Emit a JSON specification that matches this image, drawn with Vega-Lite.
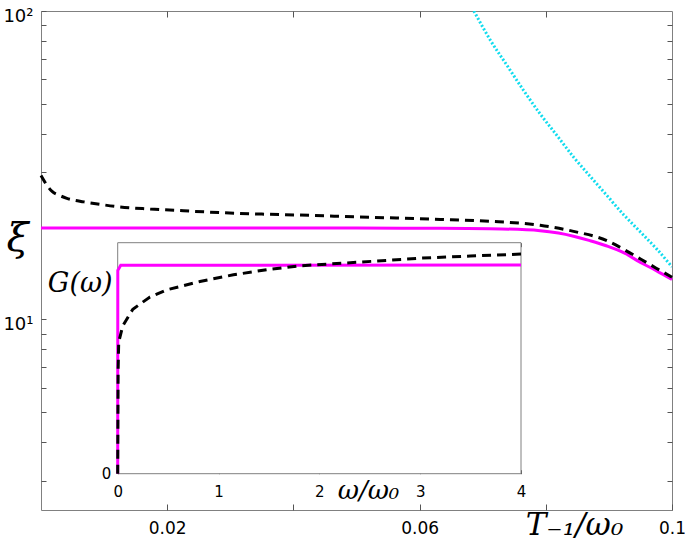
{
  "$schema": "https://vega.github.io/schema/vega-lite/v6.json",
  "width": 631,
  "height": 499,
  "autosize": {"type": "none"},
  "padding": {"left": 41, "top": 11, "right": 13, "bottom": 37},
  "background": "white",
  "config": {
    "view": {"stroke": "#808080", "strokeWidth": 1},
    "axis": {
      "domain": false, "grid": false, "zindex": 1,
      "labelFont": "DejaVu Sans", "labelColor": "#000",
      "tickColor": "#555", "tickWidth": 1,
      "titleFont": "DejaVu Serif", "titleFontStyle": "italic", "titleFontWeight": "normal", "titleColor": "#000",
      "labelFlush": false, "labelOverlap": false, "labelBound": false
    }
  },
  "datasets": {
    "main": [
      {"s": "m", "x": 0, "y": 19.8}, {"s": "m", "x": 0.02, "y": 19.8}, {"s": "m", "x": 0.04, "y": 19.8},
      {"s": "m", "x": 0.05, "y": 19.78}, {"s": "m", "x": 0.0633, "y": 19.75}, {"s": "m", "x": 0.073, "y": 19.65},
      {"s": "m", "x": 0.0791, "y": 19.4}, {"s": "m", "x": 0.082, "y": 19.05}, {"s": "m", "x": 0.0844, "y": 18.6},
      {"s": "m", "x": 0.087, "y": 18.0}, {"s": "m", "x": 0.0897, "y": 17.3}, {"s": "m", "x": 0.0925, "y": 16.4},
      {"s": "m", "x": 0.095, "y": 15.3}, {"s": "m", "x": 0.0975, "y": 14.4}, {"s": "m", "x": 0.1, "y": 13.47},
      {"s": "d", "x": 0, "y": 29.3}, {"s": "d", "x": 0.0008, "y": 27.5}, {"s": "d", "x": 0.00176, "y": 26.0},
      {"s": "d", "x": 0.003, "y": 25.2}, {"s": "d", "x": 0.0041, "y": 24.7}, {"s": "d", "x": 0.0068, "y": 24.05},
      {"s": "d", "x": 0.0094, "y": 23.6}, {"s": "d", "x": 0.0121, "y": 23.2}, {"s": "d", "x": 0.0173, "y": 22.8},
      {"s": "d", "x": 0.0226, "y": 22.5}, {"s": "d", "x": 0.0284, "y": 22.2}, {"s": "d", "x": 0.035, "y": 21.95},
      {"s": "d", "x": 0.041, "y": 21.8}, {"s": "d", "x": 0.05, "y": 21.5}, {"s": "d", "x": 0.0633, "y": 21.1},
      {"s": "d", "x": 0.0712, "y": 20.8}, {"s": "d", "x": 0.0791, "y": 20.2}, {"s": "d", "x": 0.0844, "y": 19.3},
      {"s": "d", "x": 0.0897, "y": 18.0}, {"s": "d", "x": 0.0925, "y": 16.8}, {"s": "d", "x": 0.095, "y": 15.7},
      {"s": "d", "x": 0.0975, "y": 14.66}, {"s": "d", "x": 0.1, "y": 13.7},
      {"s": "c", "x": 0.0686, "y": 100}, {"s": "c", "x": 0.0712, "y": 80.5}, {"s": "c", "x": 0.0739, "y": 66.4},
      {"s": "c", "x": 0.0765, "y": 55.2}, {"s": "c", "x": 0.0791, "y": 46.4}, {"s": "c", "x": 0.0818, "y": 39.4},
      {"s": "c", "x": 0.0844, "y": 33.6}, {"s": "c", "x": 0.0871, "y": 29.0}, {"s": "c", "x": 0.0897, "y": 25.2},
      {"s": "c", "x": 0.0923, "y": 21.9}, {"s": "c", "x": 0.095, "y": 19.2}, {"s": "c", "x": 0.0976, "y": 16.9},
      {"s": "c", "x": 0.1, "y": 14.8}
    ],
    "inset": [
      {"s": "m", "w": 0, "g": 0}, {"s": "m", "w": 0.001, "g": 0.88}, {"s": "m", "w": 0.03, "g": 0.902}, {"s": "m", "w": 4, "g": 0.903},
      {"s": "d", "w": 0, "g": 0}, {"s": "d", "w": 0.004, "g": 0.45}, {"s": "d", "w": 0.01, "g": 0.57},
      {"s": "d", "w": 0.05, "g": 0.64}, {"s": "d", "w": 0.15, "g": 0.712}, {"s": "d", "w": 0.32, "g": 0.765},
      {"s": "d", "w": 0.486, "g": 0.796}, {"s": "d", "w": 0.816, "g": 0.832}, {"s": "d", "w": 1.147, "g": 0.861},
      {"s": "d", "w": 1.478, "g": 0.883}, {"s": "d", "w": 1.808, "g": 0.9}, {"s": "d", "w": 2.403, "g": 0.916},
      {"s": "d", "w": 3.0, "g": 0.933}, {"s": "d", "w": 3.495, "g": 0.942}, {"s": "d", "w": 4, "g": 0.951}
    ],
    "frame": [{"x0": 0, "x1": 4, "y0": 0, "y1": 1}]
  },
  "layer": [
    {
      "data": {"name": "main"},
      "transform": [{"filter": "datum.s == 'm'"}],
      "mark": {"type": "line", "color": "#ff00ff", "strokeWidth": 3, "interpolate": "monotone"},
      "encoding": {
        "x": {"field": "x", "type": "quantitative",
          "scale": {"domain": [0, 0.1], "nice": false, "zero": false},
          "axis": {"orient": "bottom", "values": [0.02, 0.04, 0.06, 0.08, 0.1], "tickSize": -6, "labelPadding": 16, "labelFontSize": 17,
            "labelExpr": "datum.value == 0.02 || datum.value == 0.06 ? format(datum.value, '.2f') : datum.value == 0.1 ? '0.1' : ''",
            "title": "T₋₁/ω₀", "titleFontSize": 31, "titleX": 533, "titleY": 24, "titleAlign": "center", "titleBaseline": "alphabetic"}},
        "y": {"field": "y", "type": "quantitative",
          "scale": {"type": "log", "domain": [2.41, 100], "nice": false},
          "axis": {"orient": "left", "values": [3, 4, 5, 6, 7, 8, 9, 10, 20, 30, 40, 50, 60, 70, 80, 90, 100], "tickSize": -5, "labelPadding": 13,
            "labelFontSize": 18, "labelBaseline": "middle", "labelOffset": 5,
            "labelExpr": "datum.value == 100 ? '10²' : datum.value == 10 ? '10¹' : ''",
            "title": "ξ", "titleAngle": 0, "titleFontSize": 40, "titleX": -24, "titleY": 227, "titleAlign": "center", "titleBaseline": "middle"}}
      }
    },
    {
      "data": {"name": "main"},
      "transform": [{"filter": "datum.s == 'd'"}],
      "mark": {"type": "line", "color": "#000000", "strokeWidth": 3, "strokeDash": [9, 6], "interpolate": "monotone"},
      "encoding": {
        "x": {"field": "x", "type": "quantitative", "scale": {"domain": [0, 0.1], "nice": false, "zero": false},
          "axis": {"orient": "top", "values": [0.02, 0.04, 0.06, 0.08], "tickSize": -6, "labelFontSize": 1, "labelColor": "transparent", "labelExpr": "''", "title": ""}},
        "y": {"field": "y", "type": "quantitative", "scale": {"type": "log", "domain": [2.41, 100], "nice": false},
          "axis": {"orient": "right", "values": [3, 4, 5, 6, 7, 8, 9, 10, 20, 30, 40, 50, 60, 70, 80, 90], "tickSize": -5, "labelFontSize": 1, "labelColor": "transparent", "labelExpr": "''", "title": ""}}
      }
    },
    {
      "data": {"name": "main"},
      "transform": [{"filter": "datum.s == 'c'"}],
      "mark": {"type": "line", "color": "#11dcee", "strokeWidth": 3, "strokeDash": [2, 2], "interpolate": "monotone", "clip": true},
      "encoding": {
        "x": {"field": "x", "type": "quantitative", "scale": {"domain": [0, 0.1], "nice": false, "zero": false}, "axis": null},
        "y": {"field": "y", "type": "quantitative", "scale": {"type": "log", "domain": [2.41, 100], "nice": false}, "axis": null}
      }
    },
    {
      "data": {"name": "frame"},
      "mark": {"type": "rect", "fill": "white", "stroke": "#808080", "strokeWidth": 1},
      "encoding": {
        "x": {"field": "x0", "type": "quantitative", "scale": {"domain": [0, 4], "range": [76.7, 480], "nice": false, "zero": false},
          "axis": {"orient": "bottom", "offset": -36.3, "values": [0, 1, 2, 3, 4], "tickSize": -4, "labelPadding": 15, "labelFontSize": 15, "format": "d",
            "title": "ω/ω₀", "titleFontSize": 26, "titleX": 327, "titleY": 17, "titleAlign": "center", "titleBaseline": "middle"}},
        "x2": {"field": "x1"},
        "y": {"field": "y0", "type": "quantitative", "scale": {"domain": [0, 1], "range": [462.7, 231.7], "nice": false, "zero": false},
          "axis": {"orient": "left", "offset": -76.7, "values": [0], "ticks": false, "tickSize": 0, "labelPadding": 7, "labelFontSize": 15, "labelBaseline": "middle", "format": "d",
            "title": "G(ω)", "titleAngle": 0, "titleFontSize": 27, "titleX": -38, "titleY": 272, "titleAlign": "center", "titleBaseline": "middle"}},
        "y2": {"field": "y1"}
      }
    },
    {
      "data": {"name": "inset"},
      "transform": [{"filter": "datum.s == 'm'"}],
      "mark": {"type": "line", "color": "#ff00ff", "strokeWidth": 3},
      "encoding": {
        "x": {"field": "w", "type": "quantitative", "scale": {"domain": [0, 4], "range": [76.7, 480], "nice": false, "zero": false},
          "axis": {"orient": "top", "offset": -231.7, "values": [0, 1, 2, 3, 4], "tickSize": -4, "labelFontSize": 1, "labelColor": "transparent", "labelExpr": "''", "title": ""}},
        "y": {"field": "g", "type": "quantitative", "scale": {"domain": [0, 1], "range": [462.7, 231.7], "nice": false, "zero": false}, "axis": null}
      }
    },
    {
      "data": {"name": "inset"},
      "transform": [{"filter": "datum.s == 'd'"}],
      "mark": {"type": "line", "color": "#000000", "strokeWidth": 3, "strokeDash": [9, 6]},
      "encoding": {
        "x": {"field": "w", "type": "quantitative", "scale": {"domain": [0, 4], "range": [76.7, 480], "nice": false, "zero": false}, "axis": null},
        "y": {"field": "g", "type": "quantitative", "scale": {"domain": [0, 1], "range": [462.7, 231.7], "nice": false, "zero": false}, "axis": null}
      }
    }
  ],
  "resolve": {"scale": {"x": "independent", "y": "independent"}, "axis": {"x": "independent", "y": "independent"}}
}
